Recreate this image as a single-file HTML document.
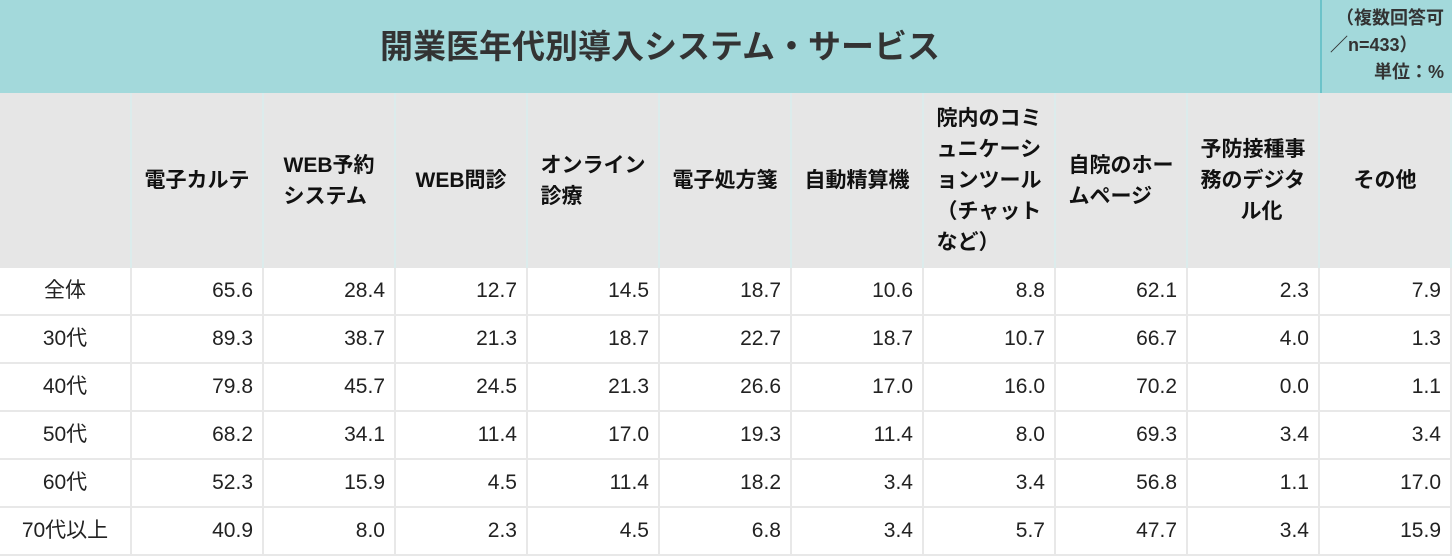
<!DOCTYPE html>
<html><head><meta charset="utf-8"><style>
*{margin:0;padding:0;box-sizing:border-box}
body{width:1452px;height:557px;background:#fff;font-family:"Liberation Sans","Noto Sans CJK JP",sans-serif;color:#222;position:relative;overflow:hidden}
.t{position:absolute;left:0;top:0;width:1452px;height:93px;background:#a3d9db}
.title{position:absolute;left:0;top:0;width:1320px;height:93px;line-height:93px;text-align:center;font-size:33px;font-weight:bold;color:#333}
.note{position:absolute;left:1320px;top:0;width:132px;height:93px;border-left:2px solid #6cc3c9;font-size:18px;font-weight:bold;color:#333;line-height:27px;padding:5px 8px 0 0;white-space:nowrap}
.h{position:absolute;top:93px;height:175px;background:#e6e6e6;border-right:2px solid #dcecec;display:flex;align-items:center;justify-content:center;text-align:left;font-size:21px;font-weight:bold;line-height:31px;color:#111}
.c{position:absolute;height:48px;border-right:2px solid #e8e8e8;border-bottom:2px solid #e8e8e8;font-size:21px;line-height:46px;text-align:right;padding-right:9px;color:#222}
.c.l{text-align:center;padding:0}
</style></head><body>
<div class="t"></div>
<div class="title">開業医年代別導入システム・サービス</div>
<div class="note"><div style="text-align:right">（複数回答可</div><div style="padding-left:8px">／n=433）</div><div style="text-align:right">単位：%</div></div>
<div id="g"></div>
<script>
var hs=["","電子カルテ","WEB予約<br>システム","WEB問診","オンライン<br>診療","電子処方箋","自動精算機","院内のコミ<br>ュニケーシ<br>ョンツール<br>（チャット<br>など）","自院のホー<br>ムページ","予防接種事<br>務のデジタ<br><span style='padding-left:40px'>ル化</span>","その他"];
var rows=[["全体","65.6","28.4","12.7","14.5","18.7","10.6","8.8","62.1","2.3","7.9"],
["30代","89.3","38.7","21.3","18.7","22.7","18.7","10.7","66.7","4.0","1.3"],
["40代","79.8","45.7","24.5","21.3","26.6","17.0","16.0","70.2","0.0","1.1"],
["50代","68.2","34.1","11.4","17.0","19.3","11.4","8.0","69.3","3.4","3.4"],
["60代","52.3","15.9","4.5","11.4","18.2","3.4","3.4","56.8","1.1","17.0"],
["70代以上","40.9","8.0","2.3","4.5","6.8","3.4","5.7","47.7","3.4","15.9"]];
var h="";
for(var i=0;i<11;i++){var x=i*132;h+='<div class="h" style="left:'+x+'px;width:132px"><div>'+hs[i]+'</div></div>';}
for(var r=0;r<6;r++)for(var i=0;i<11;i++){h+='<div class="c'+(i==0?' l':'')+'" style="left:'+(i*132)+'px;width:132px;top:'+(268+r*48)+'px">'+rows[r][i]+'</div>';}
document.getElementById("g").innerHTML=h;
</script>
</body></html>
